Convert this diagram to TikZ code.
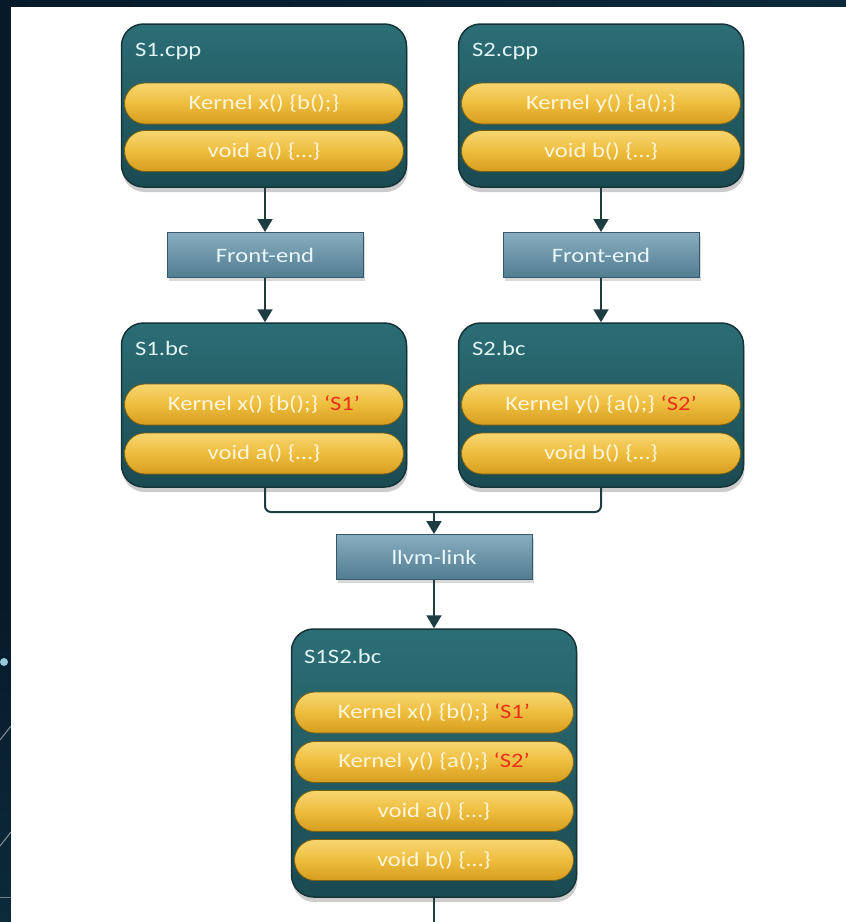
\documentclass[tikz,border=0pt]{standalone}
\usepackage{fontspec}
\setmainfont{Carlito}[FakeStretch=1.2]
\usetikzlibrary{arrows.meta,shapes.misc,shadows}
\definecolor{navy}{HTML}{071A2A}
\definecolor{navyb}{HTML}{0C2A3A}
\definecolor{ctop}{HTML}{2C6E76}
\definecolor{cbot}{HTML}{1B4A51}
\definecolor{cborder}{HTML}{143439}
\definecolor{ptop}{HTML}{F7D670}
\definecolor{pmid}{HTML}{EEBD3E}
\definecolor{pbot}{HTML}{D69D1E}
\definecolor{pborder}{HTML}{7A6012}
\definecolor{ptext}{HTML}{FFF5DA}
\definecolor{ttext}{HTML}{E2F4F4}
\definecolor{qtop}{HTML}{88ADC0}
\definecolor{qbot}{HTML}{527C90}
\definecolor{qborder}{HTML}{36586A}
\definecolor{qtext}{HTML}{E8F8FC}
\definecolor{redq}{HTML}{E8301C}
\definecolor{arr}{HTML}{1E3D43}
\tikzset{
  container/.style={rectangle, rounded corners=22pt, minimum width=285pt,
    draw=cborder, line width=1.5pt, top color=ctop, bottom color=cbot,
    drop shadow={shadow xshift=1pt, shadow yshift=-5pt, opacity=0.2, fill=black}},
  pill/.style={rounded rectangle, minimum width=279pt, minimum height=41pt,
    inner sep=0pt, draw=pborder, line width=0.8pt,
    top color=ptop, bottom color=pbot, middle color=pmid,
    text=ptext, font=\fontsize{20.5}{24}\selectfont},
  ctitle/.style={anchor=base west, inner sep=0pt, text=ttext,
    font=\fontsize{20.5}{24}\selectfont},
  proc/.style={rectangle, minimum width=196pt, minimum height=45pt,
    draw=qborder, line width=1pt, top color=qtop, bottom color=qbot,
    text=qtext, font=\fontsize{20.5}{24}\selectfont,
    drop shadow={shadow xshift=2pt, shadow yshift=-3pt, opacity=0.15, fill=black}},
  conn/.style={draw=arr, line width=2pt},
  arrow/.style={conn, -{Triangle[width=15pt,length=13pt]}},
  tag/.style={text=redq}
}
\begin{document}
\begin{tikzpicture}[x=1pt,y=-1pt]
\useasboundingbox (0,0) rectangle (846,922);
% background frame
\fill[navy] (0,0) rectangle (846,922);
\shade[left color=navy, right color=navyb] (0,0) rectangle (846,7);
\shade[top color=navy, bottom color=navyb] (0,600) rectangle (11,922);
\fill[white] (11,7) rectangle (846,922);
\fill[cyan!30!white, opacity=0.85] (4,662) circle (4);
\draw[white, opacity=0.5, line width=1pt] (0,740) -- (11,726);
\draw[white, opacity=0.5, line width=1pt] (0,846) -- (11,832);
\draw[white, opacity=0.4, line width=1pt] (0,897) -- (11,897);

% S1.cpp
\node[container, minimum height=163pt] (c1) at (264,105.5) {};
\node[ctitle] (t1) at (135,56) {S1.cpp};
\node[pill] (p11) at (264,103.5) {Kernel x() \{b();\}};
\node[pill] (p12) at (264,151) {void a() \{…\}};
% S2.cpp
\node[container, minimum height=163pt] (c2) at (601,105.5) {};
\node[ctitle] (t2) at (472,56) {S2.cpp};
\node[pill] (p21) at (601,103.5) {Kernel y() \{a();\}};
\node[pill] (p22) at (601,151) {void b() \{…\}};

% Front-ends
\node[proc] (f1) at (265,255) {Front-end};
\node[proc] (f2) at (601,255) {Front-end};

% S1.bc
\node[container, minimum height=164pt] (c3) at (264,405) {};
\node[ctitle] (t3) at (135,355) {S1.bc};
\node[pill] (p31) at (264,404.5) {Kernel x() \{b();\} \textcolor{redq}{‘S1’}};
\node[pill] (p32) at (264,453.5) {void a() \{…\}};
% S2.bc
\node[container, minimum height=164pt] (c4) at (601,405) {};
\node[ctitle] (t4) at (472,355) {S2.bc};
\node[pill] (p41) at (601,404.5) {Kernel y() \{a();\} \textcolor{redq}{‘S2’}};
\node[pill] (p42) at (601,453.5) {void b() \{…\}};

% llvm-link
\node[proc] (l) at (434,557) {llvm-link};

% S1S2.bc
\node[container, minimum height=268pt] (c5) at (434,763) {};
\node[ctitle] (t5) at (304,663) {S1S2.bc};
\node[pill] (p51) at (434,712.5) {Kernel x() \{b();\} \textcolor{redq}{‘S1’}};
\node[pill] (p52) at (434,762) {Kernel y() \{a();\} \textcolor{redq}{‘S2’}};
\node[pill] (p53) at (434,811) {void a() \{…\}};
\node[pill] (p54) at (434,860) {void b() \{…\}};

% connectors
\coordinate (m) at (434,512);
\coordinate (out) at (434,922);
\draw[arrow] (c1.south -| f1) -- (f1.north);
\draw[arrow] (f1.south) -- (c3.north -| f1);
\draw[arrow] (c2.south) -- (f2.north);
\draw[arrow] (f2.south) -- (c4.north);
\draw[conn, rounded corners=6pt] (c3.south -| f1) |- (m) -| (c4.south);
\draw[arrow] (m) -- (l.north);
\draw[arrow] (l.south) -- (c5.north);
\draw[conn] (c5.south) -- (out);
\end{tikzpicture}
\end{document}
